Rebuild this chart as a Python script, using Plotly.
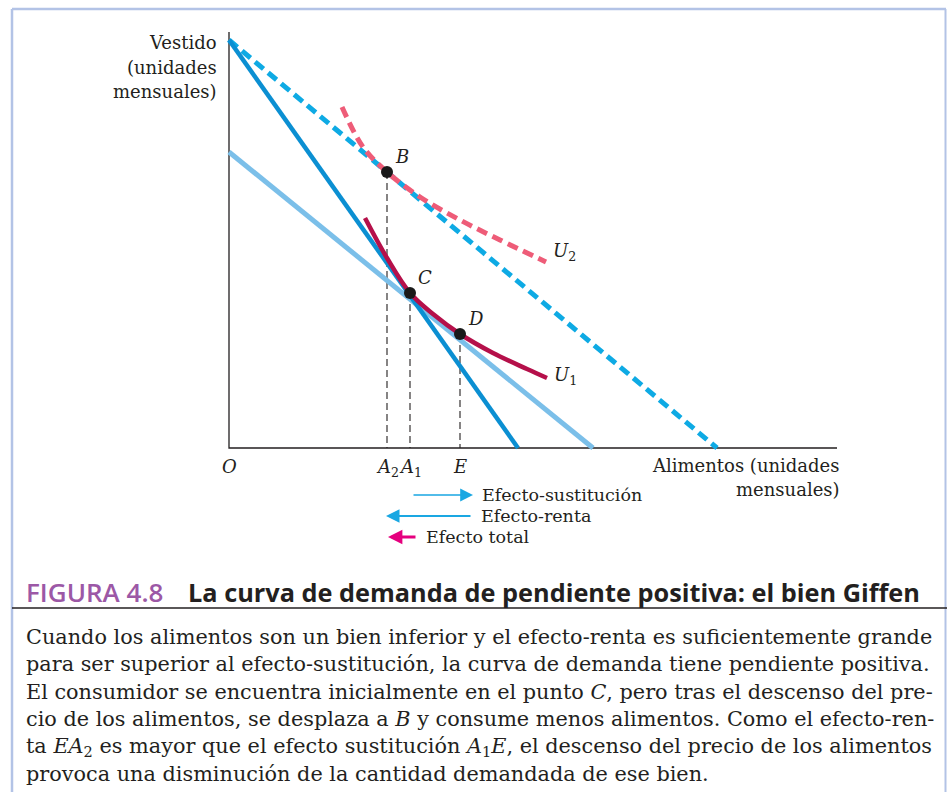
import plotly.graph_objects as go

W, H = 947, 792
# ---------------- data (units: x = food, y = clothing) ----------------
axis_x_end = 60.8
axis_y_top = 41.6

old_budget_x = [0, 28.9]
old_budget_y = [40.8, 0]
new_budget_x = [0, 48.8]
new_budget_y = [40.8, 0]
hyp_budget_x = [0, 36.4]
hyp_budget_y = [29.6, 0]

u1_x = [13.6, 15.8, 18.1, 20.4, 23.1, 26.4, 29.8, 31.8]
u1_y = [23.0, 19.0, 15.5, 13.4, 11.4, 9.5, 7.9, 7.0]
u2_x = [11.3, 13.4, 15.8, 19.1, 23.1, 27.1, 31.7]
u2_y = [34.1, 30.1, 27.6, 25.1, 22.8, 20.8, 18.6]

point_names = ["B", "C", "D"]
point_x = [15.8, 18.1, 23.1]
point_y = [27.6, 15.5, 11.4]

tick_vals = [0, 15.8, 18.1, 23.1]
tick_text = ["<i>O</i>", "<i>A</i><sub>2</sub>", "<i>A</i><sub>1</sub>", "<i>E</i>"]

effect_names = ["Efecto-sustitución", "Efecto-renta", "Efecto total"]
effect_from = [18.3, 24.3, 18.8]
effect_to = [24.4, 15.7, 15.9]
effect_level = [-4.7, -6.8, -8.9]

caption_lines = [
    "Cuando los alimentos son un bien inferior y el efecto-renta es suficientemente grande",
    "para ser superior al efecto-sustitución, la curva de demanda tiene pendiente positiva.",
    "El consumidor se encuentra inicialmente en el punto <i>C</i>, pero tras el descenso del pre-",
    "cio de los alimentos, se desplaza a <i>B</i> y consume menos alimentos. Como el efecto-ren-",
    "ta <i>EA</i><sub>2</sub> es mayor que el efecto sustitución <i>A</i><sub>1</sub><i>E</i>, el descenso del precio de los alimentos",
    "provoca una disminución de la cantidad demandada de ese bien.",
]

# ---------------- layout helpers ----------------
OX, OY, SC = 229, 448, 10.0   # origin pixel and pixels per unit
xr = [-OX / SC, (W - OX) / SC]
yr = [(OY - H) / SC, OY / SC]

def px(x):
    return x / W

def py(y):
    return 1 - y / H

SERIF = "DejaVu Serif"
SANS = "Open Sans"
TXT = "#231f20"
LBL = 18

fig = go.Figure()

# axes
fig.add_trace(go.Scatter(x=[0, 0, axis_x_end], y=[axis_y_top, 0, 0], mode="lines",
                         line=dict(color="#231f20", width=1.3), hoverinfo="skip"))
# drop lines
for xv, yv in zip(point_x, point_y):
    fig.add_trace(go.Scatter(x=[xv, xv], y=[yv, 0], mode="lines",
                             line=dict(color="#231f20", width=1.1, dash="7px,4px"), hoverinfo="skip"))
# hypothetical budget line (light blue)
fig.add_trace(go.Scatter(x=hyp_budget_x, y=hyp_budget_y, mode="lines",
                         line=dict(color="#7bbfe9", width=5), hoverinfo="skip"))
# new budget line (dashed cyan)
fig.add_trace(go.Scatter(x=new_budget_x, y=new_budget_y, mode="lines",
                         line=dict(color="#0eaae4", width=5, dash="11px,6px"), hoverinfo="skip"))
# old budget line
fig.add_trace(go.Scatter(x=old_budget_x, y=old_budget_y, mode="lines",
                         line=dict(color="#0b8fd2", width=4.5), hoverinfo="skip"))
# U2 (dashed pink)
fig.add_trace(go.Scatter(x=u2_x, y=u2_y, mode="lines", line_shape="spline",
                         line=dict(color="#ee5c78", width=5, dash="11px,6px"), hoverinfo="skip"))
# U1 (crimson)
fig.add_trace(go.Scatter(x=u1_x, y=u1_y, mode="lines", line_shape="spline",
                         line=dict(color="#b5104a", width=4.5), hoverinfo="skip"))
# points
fig.add_trace(go.Scatter(x=point_x, y=point_y, mode="markers",
                         marker=dict(color="#1a1a1a", size=12), hoverinfo="skip"))

ann = []
# point labels
for name, xv, yv in zip(point_names, point_x, point_y):
    ann.append(dict(x=xv, y=yv, xref="x", yref="y", text=f"<i>{name}</i>", showarrow=False,
                    xanchor="left", yanchor="bottom", xshift=6, yshift=3,
                    font=dict(family=SERIF, size=LBL, color=TXT)))
# curve labels
ann.append(dict(x=u2_x[-1], y=u2_y[-1], xref="x", yref="y", text="<i>U</i><sub>2</sub>",
                showarrow=False, xanchor="left", yanchor="middle", xshift=5, yshift=10,
                font=dict(family=SERIF, size=LBL, color=TXT)))
ann.append(dict(x=u1_x[-1], y=u1_y[-1], xref="x", yref="y", text="<i>U</i><sub>1</sub>",
                showarrow=False, xanchor="left", yanchor="middle", xshift=5, yshift=2,
                font=dict(family=SERIF, size=LBL, color=TXT)))
# tick labels
for xv, t in zip(tick_vals, tick_text):
    ann.append(dict(x=xv, y=0, xref="x", yref="y", text=t, showarrow=False,
                    xanchor="center", yanchor="top", yshift=-6,
                    font=dict(family=SERIF, size=LBL, color=TXT)))
# axis titles
for i, t in enumerate(["Vestido", "(unidades", "mensuales)"]):
    ann.append(dict(x=px(219), y=py(43 + 24.5 * i), xref="paper", yref="paper", text=t,
                    showarrow=False, xanchor="right", yanchor="middle",
                    font=dict(family=SERIF, size=LBL, color=TXT)))
for i, t in enumerate(["Alimentos (unidades", "mensuales)"]):
    ann.append(dict(x=px(842), y=py(466 + 23 * i), xref="paper", yref="paper", text=t,
                    showarrow=False, xanchor="right", yanchor="middle",
                    font=dict(family=SERIF, size=LBL, color=TXT)))
# effect arrows
arrow_cols = ["#1aa7e2", "#1aa7e2", "#e5007e"]
arrow_w = [1.6, 1.8, 3.2]
arrow_sz = [1.6, 1.5, 0.9]
for name, f, t, lv, c, w, s in zip(effect_names, effect_from, effect_to, effect_level,
                                   arrow_cols, arrow_w, arrow_sz):
    ann.append(dict(x=t, y=lv, ax=f, ay=lv, xref="x", yref="y", axref="x", ayref="y",
                    text="", showarrow=True, arrowhead=2, arrowsize=s, arrowwidth=w,
                    arrowcolor=c))
    lx = max(f, t)
    ann.append(dict(x=lx, y=lv, xref="x", yref="y", text=name, showarrow=False,
                    xanchor="left", yanchor="middle", xshift=7,
                    font=dict(family=SERIF, size=17.5, color=TXT)))
# figure title
ann.append(dict(x=px(24), y=py(592), xref="paper", yref="paper",
                text="FIGURA 4.8", showarrow=False, xanchor="left", yanchor="middle",
                font=dict(family=SANS, size=26, color="#9c58a6", weight=600)))
ann.append(dict(x=px(186), y=py(592), xref="paper", yref="paper",
                text="<b>La curva de demanda de pendiente positiva: el bien Giffen</b>",
                showarrow=False, xanchor="left", yanchor="middle",
                font=dict(family=SANS, size=25.3, color="#231f20")))
# caption
for i, t in enumerate(caption_lines):
    ann.append(dict(x=px(24), y=py(637 + 27.4 * i), xref="paper", yref="paper", text=t,
                    showarrow=False, xanchor="left", yanchor="middle",
                    font=dict(family=SERIF, size=20.8, color=TXT)))

shapes = [
    dict(type="line", xref="paper", yref="paper", x0=px(12), x1=px(946), y0=py(9), y1=py(9),
         line=dict(color="#b3c3e6", width=2.5)),
    dict(type="line", xref="paper", yref="paper", x0=px(12), x1=px(12), y0=py(9), y1=py(792),
         line=dict(color="#b3c3e6", width=2.5)),
    dict(type="line", xref="paper", yref="paper", x0=px(945.5), x1=px(945.5), y0=py(9), y1=py(792),
         line=dict(color="#b3c3e6", width=2)),
    dict(type="line", xref="paper", yref="paper", x0=px(12), x1=px(947), y0=py(608), y1=py(608),
         line=dict(color="#231f20", width=1.5)),
]

fig.update_layout(
    width=W, height=H, margin=dict(l=0, r=0, t=0, b=0),
    paper_bgcolor="white", plot_bgcolor="white", showlegend=False,
    xaxis=dict(range=xr, visible=False, fixedrange=True),
    yaxis=dict(range=yr, visible=False, fixedrange=True),
    annotations=ann, shapes=shapes,
)
fig.write_html("out.html", config={"displayModeBar": False},
               post_script="document.body.style.margin='0';document.body.style.overflow='hidden';")
